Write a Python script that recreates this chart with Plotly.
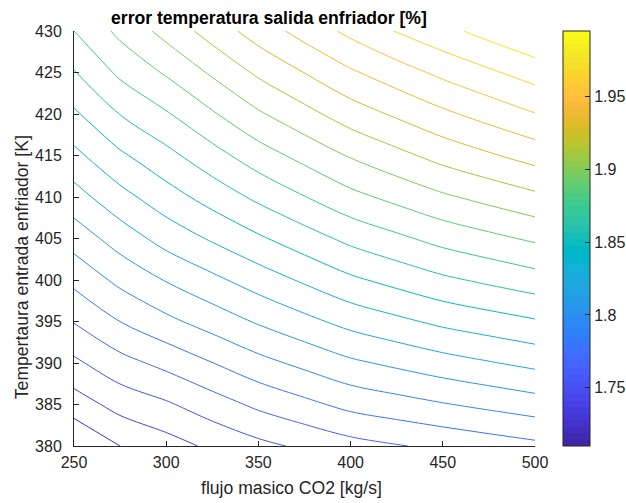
import numpy as np
import plotly.graph_objects as go

# CO2 mass flow [kg/s] and cooler inlet temperature [K] grid
flujo = [250, 275, 300, 325, 350, 375, 400, 425, 450, 475, 500]
temp_entrada = [380, 385, 390, 395, 400, 405, 410, 415, 420, 425, 430]

# error in cooler outlet temperature [%]; one row per inlet temperature
error_t380 = [1.7100, 1.7236, 1.7315, 1.7398, 1.7471, 1.7532, 1.7593, 1.7634, 1.7671, 1.7708, 1.7745]
error_t385 = [1.7304, 1.7420, 1.7489, 1.7580, 1.7671, 1.7744, 1.7817, 1.7861, 1.7905, 1.7946, 1.7987]
error_t390 = [1.7480, 1.7596, 1.7681, 1.7776, 1.7871, 1.7948, 1.8025, 1.8078, 1.8131, 1.8176, 1.8221]
error_t395 = [1.7650, 1.7779, 1.7881, 1.7973, 1.8065, 1.8148, 1.8230, 1.8291, 1.8352, 1.8398, 1.8443]
error_t400 = [1.7814, 1.7949, 1.8058, 1.8154, 1.8250, 1.8341, 1.8432, 1.8500, 1.8567, 1.8619, 1.8670]
error_t405 = [1.7972, 1.8111, 1.8238, 1.8338, 1.8437, 1.8533, 1.8628, 1.8701, 1.8774, 1.8830, 1.8886]
error_t410 = [1.8130, 1.8276, 1.8399, 1.8511, 1.8622, 1.8724, 1.8825, 1.8902, 1.8979, 1.9042, 1.9105]
error_t415 = [1.8286, 1.8435, 1.8553, 1.8678, 1.8802, 1.8907, 1.9012, 1.9098, 1.9184, 1.9255, 1.9326]
error_t420 = [1.8435, 1.8596, 1.8715, 1.8849, 1.8982, 1.9093, 1.9204, 1.9292, 1.9380, 1.9459, 1.9538]
error_t425 = [1.8584, 1.8756, 1.8880, 1.9020, 1.9160, 1.9274, 1.9388, 1.9482, 1.9575, 1.9657, 1.9739]
error_t430 = [1.8728, 1.8898, 1.9045, 1.9194, 1.9334, 1.9459, 1.9577, 1.9686, 1.9775, 1.9863, 1.9950]

x_ticks = [250, 300, 350, 400, 450, 500]
y_ticks = [380, 385, 390, 395, 400, 405, 410, 415, 420, 425, 430]
cbar_ticks = [1.75, 1.8, 1.85, 1.9, 1.95]
n_niveles = 20

Z = np.array([error_t380, error_t385, error_t390, error_t395, error_t400, error_t405,
              error_t410, error_t415, error_t420, error_t425, error_t430])
zmin, zmax = float(Z.min()), float(Z.max())
# evenly spaced levels strictly between the data extremes
niveles = np.linspace(zmin, zmax, n_niveles + 2)[1:-1]

# parula colormap, 64 entries
PARULA = [
    [0.2422, 0.1504, 0.6603], [0.2504, 0.1650, 0.7076], [0.2578, 0.1818, 0.7511], [0.2647, 0.1978, 0.7952],
    [0.2706, 0.2147, 0.8364], [0.2751, 0.2342, 0.8710], [0.2783, 0.2559, 0.8991], [0.2803, 0.2782, 0.9221],
    [0.2813, 0.3006, 0.9414], [0.2810, 0.3228, 0.9579], [0.2795, 0.3447, 0.9717], [0.2760, 0.3667, 0.9829],
    [0.2699, 0.3892, 0.9906], [0.2602, 0.4123, 0.9952], [0.2440, 0.4358, 0.9988], [0.2206, 0.4603, 0.9973],
    [0.1963, 0.4847, 0.9892], [0.1834, 0.5074, 0.9798], [0.1786, 0.5289, 0.9682], [0.1764, 0.5499, 0.9520],
    [0.1687, 0.5703, 0.9359], [0.1540, 0.5902, 0.9218], [0.1460, 0.6091, 0.9079], [0.1380, 0.6276, 0.8973],
    [0.1248, 0.6459, 0.8883], [0.1113, 0.6635, 0.8763], [0.0952, 0.6798, 0.8598], [0.0689, 0.6948, 0.8394],
    [0.0297, 0.7082, 0.8163], [0.0036, 0.7203, 0.7917], [0.0067, 0.7312, 0.7660], [0.0433, 0.7411, 0.7394],
    [0.0964, 0.7500, 0.7120], [0.1408, 0.7584, 0.6842], [0.1717, 0.7670, 0.6554], [0.1938, 0.7758, 0.6251],
    [0.2161, 0.7843, 0.5923], [0.2470, 0.7918, 0.5567], [0.2906, 0.7973, 0.5188], [0.3406, 0.8008, 0.4789],
    [0.3909, 0.8029, 0.4354], [0.4456, 0.8024, 0.3909], [0.5044, 0.7993, 0.3480], [0.5616, 0.7942, 0.3045],
    [0.6174, 0.7876, 0.2612], [0.6720, 0.7793, 0.2227], [0.7242, 0.7698, 0.1910], [0.7738, 0.7598, 0.1646],
    [0.8203, 0.7498, 0.1535], [0.8634, 0.7406, 0.1596], [0.9035, 0.7330, 0.1774], [0.9393, 0.7288, 0.2100],
    [0.9728, 0.7298, 0.2394], [0.9956, 0.7434, 0.2371], [0.9970, 0.7659, 0.2199], [0.9952, 0.7893, 0.2028],
    [0.9892, 0.8136, 0.1885], [0.9786, 0.8386, 0.1766], [0.9676, 0.8639, 0.1643], [0.9610, 0.8890, 0.1537],
    [0.9597, 0.9135, 0.1423], [0.9628, 0.9373, 0.1265], [0.9691, 0.9606, 0.1064], [0.9769, 0.9839, 0.0805],
]


def rgb(c):
    return "rgb({},{},{})".format(*[int(round(v * 255)) for v in c])


m = len(PARULA)
# banded colorscale for the colorbar (one flat band per colormap entry)
escala = []
for i, c in enumerate(PARULA):
    escala.append([i / m, rgb(c)])
    escala.append([(i + 1) / m, rgb(c)])


def color_nivel(v):
    idx = int((v - zmin) / (zmax - zmin) * m)
    return rgb(PARULA[min(max(idx, 0), m - 1)])


INK = "#262626"
FONT = "Liberation Sans, Arial, sans-serif"

# plot area in pixels
L, R, T, B = 74, 535, 31, 446
W, H = R - L, B - T

fig = go.Figure()

# transparent layer that only carries the colorbar
fig.add_trace(go.Heatmap(
    x=flujo, y=temp_entrada, z=Z, zmin=zmin, zmax=zmax, colorscale=escala,
    opacity=0, hoverinfo="skip", showscale=True,
    colorbar=dict(
        x=(563.3 - L) / W, xanchor="left", xpad=0,
        y=0.5, yanchor="middle", len=1, lenmode="fraction", ypad=0,
        thickness=27, outlinewidth=1, outlinecolor=INK,
        tickvals=cbar_ticks, ticktext=[f"{t:g}" for t in cbar_ticks],
        ticks="inside", ticklen=5, tickcolor=INK, tickwidth=1,
        tickfont=dict(family=FONT, size=16, color=INK),
    ),
))

# one iso-line per level, coloured like an indexed colormap
for v in niveles:
    fig.add_trace(go.Contour(
        x=flujo, y=temp_entrada, z=Z,
        autocontour=False,
        contours=dict(start=v, end=v, size=1, coloring="none"),
        line=dict(color=color_nivel(v), width=1),
        showscale=False, hoverinfo="skip",
    ))

fig.update_layout(
    width=626, height=503,
    margin=dict(l=L, r=626 - R, t=T, b=503 - B, autoexpand=False),
    paper_bgcolor="white", plot_bgcolor="white",
    showlegend=False,
    font=dict(family=FONT, size=16, color=INK),
    xaxis=dict(
        range=[flujo[0], flujo[-1]], tickvals=x_ticks, showgrid=False, zeroline=False,
        showline=True, linecolor=INK, linewidth=1, mirror=False,
        ticks="inside", ticklen=5, tickcolor=INK, tickwidth=1,
        tickfont=dict(family=FONT, size=16, color=INK), ticklabelstandoff=2,
    ),
    yaxis=dict(
        range=[temp_entrada[0], temp_entrada[-1]], tickvals=y_ticks, showgrid=False, zeroline=False,
        showline=True, linecolor=INK, linewidth=1, mirror=False,
        ticks="inside", ticklen=5, tickcolor=INK, tickwidth=1,
        tickfont=dict(family=FONT, size=16, color=INK), ticklabelstandoff=8,
    ),
    annotations=[
        dict(text="<b>error temperatura salida enfriador [%]</b>", xref="paper", yref="paper",
             x=(269 - L) / W, y=1 + (T - 18) / H, xanchor="center", yanchor="middle",
             showarrow=False, font=dict(family=FONT, size=17.6, color="black")),
        dict(text="flujo masico CO2 [kg/s]", xref="paper", yref="paper",
             x=(291.5 - L) / W, y=(B - 487.5) / H, xanchor="center", yanchor="middle",
             showarrow=False, font=dict(family=FONT, size=17.6, color=INK)),
        dict(text="Tempertaura entrada enfriador [K]", xref="paper", yref="paper",
             x=(21.7 - L) / W, y=(B - 267.5) / H, xanchor="center", yanchor="middle",
             textangle=-90, showarrow=False, font=dict(family=FONT, size=17.6, color=INK)),
    ],
)

fig.write_html("out.html")
